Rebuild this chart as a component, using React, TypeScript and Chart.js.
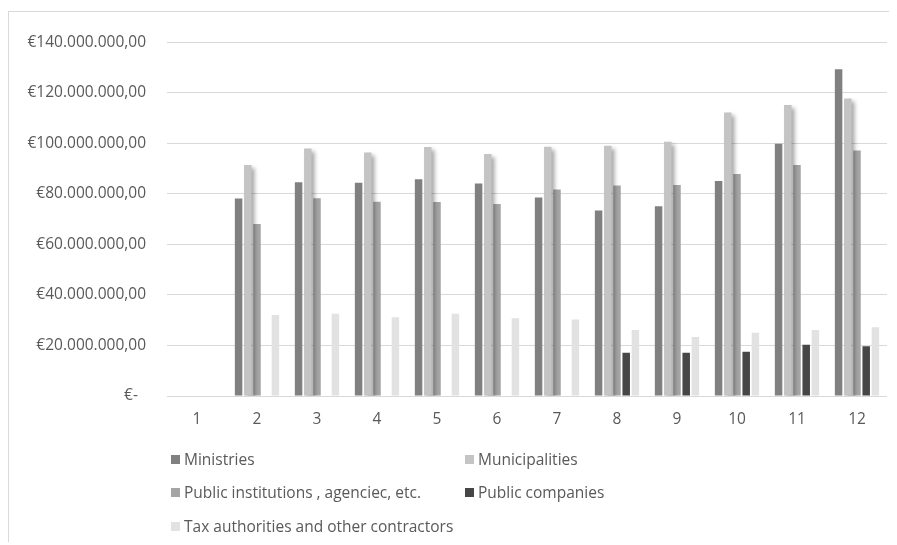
import React, { useEffect, useRef } from "react";
import { Chart, registerables } from "chart.js";

Chart.register(...registerables);

const categories = ["1", "2", "3", "4", "5", "6", "7", "8", "9", "10", "11", "12"];

const ministries = [null, 78200000, 84600000, 84400000, 85800000, 84100000, 78600000, 73400000, 75100000, 85100000, 99800000, 129300000];
const municipalities = [null, 91400000, 98000000, 96400000, 98600000, 95800000, 98700000, 99100000, 100600000, 112200000, 115200000, 117800000];
const publicInstitutions = [null, 68100000, 78300000, 76900000, 76800000, 76000000, 81700000, 83300000, 83500000, 87900000, 91400000, 97200000];
const publicCompanies = [null, null, null, null, null, null, null, 17100000, 17100000, 17500000, 20300000, 19700000];
const taxAuthorities = [null, 32100000, 32600000, 31200000, 32600000, 30800000, 30300000, 26100000, 23400000, 25000000, 26100000, 27200000];

const seriesNames = [
  "Ministries",
  "Municipalities",
  "Public institutions , agenciec, etc.",
  "Public companies",
  "Tax authorities and other contractors",
];
const seriesColors = ["#808080", "#c4c4c4", "#a5a5a5", "#464646", "#e2e2e2"];

const FONT = "'Open Sans', 'Noto Sans', sans-serif";
const TEXT = "#595959";
const FONT_SIZE = 15.5;

function formatEuro(v: number): string {
  if (v === 0) return "€-  ";
  const s = Math.round(v).toString();
  const withDots = s.replace(/\B(?=(\d{3})+(?!\d))/g, ".");
  return "€" + withDots + ",00";
}

const shadowPlugin = {
  id: "munShadow",
  beforeDatasetDraw(chart: any, args: any) {
    if (args.index === 1) {
      const ctx = chart.ctx;
      ctx.save();
      ctx.shadowColor = "rgba(0,0,0,0.35)";
      ctx.shadowBlur = 4;
      ctx.shadowOffsetX = 3;
      ctx.shadowOffsetY = 3;
    }
  },
  afterDatasetDraw(chart: any, args: any) {
    if (args.index === 1) chart.ctx.restore();
  },
};

export default function App() {
  const canvasRef = useRef<HTMLCanvasElement | null>(null);

  useEffect(() => {
    if (!canvasRef.current) return;
    const seriesData = [ministries, municipalities, publicInstitutions, publicCompanies, taxAuthorities];
    const chart = new Chart(canvasRef.current, {
      type: "bar",
      data: {
        labels: categories,
        datasets: seriesData.map((d, i) => ({
          label: seriesNames[i],
          data: d as any,
          backgroundColor: seriesColors[i],
          borderWidth: 0,
          categoryPercentage: 0.767,
          barPercentage: 0.815,
        })),
      },
      options: {
        animation: false,
        responsive: true,
        maintainAspectRatio: false,
        layout: { padding: { left: 0, right: 10, top: 21, bottom: 0 } },
        plugins: {
          legend: { display: false },
          tooltip: { enabled: false },
        },
        scales: {
          x: {
            grid: { display: false, drawTicks: false },
            border: { display: false },
            ticks: {
              color: TEXT,
              font: { family: FONT, size: FONT_SIZE },
              padding: 14,
            },
            afterFit: (scale: any) => {
              scale.height = 56;
            },
          },
          y: {
            min: 0,
            max: 140000000,
            grid: { color: "#d9d9d9", lineWidth: 1, drawTicks: false },
            border: { display: false },
            ticks: {
              stepSize: 20000000,
              color: TEXT,
              font: { family: FONT, size: FONT_SIZE },
              padding: 21,
              callback: (v: any) => formatEuro(Number(v)),
            },
            afterFit: (scale: any) => {
              scale.width = 158;
            },
          },
        },
      },
      plugins: [shadowPlugin],
    });
    return () => chart.destroy();
  }, []);

  const legendPos = [
    { x: 162, y: 447 },
    { x: 456, y: 447 },
    { x: 162, y: 480 },
    { x: 456, y: 480 },
    { x: 162, y: 514 },
  ];

  return (
    <div
      style={{
        position: "relative",
        top: 3,
        width: 889,
        height: 534,
        boxSizing: "border-box",
        borderLeft: "1px solid #d9d9d9",
        borderTop: "1px solid #d9d9d9",
        fontFamily: FONT,
      }}
    >
      <div style={{ position: "absolute", left: 0, top: 0, width: 888, height: 440 }}>
        <canvas ref={canvasRef} />
      </div>
      {seriesNames.map((name, i) => (
        <div
          key={name}
          style={{
            position: "absolute",
            left: legendPos[i].x,
            top: legendPos[i].y - 10,
            height: 20,
            display: "flex",
            alignItems: "center",
            whiteSpace: "nowrap",
            color: TEXT,
            fontSize: FONT_SIZE,
          }}
        >
          <span
            style={{
              display: "inline-block",
              width: 9,
              height: 9,
              background: seriesColors[i],
              marginRight: 4,
            }}
          />
          <span>{name}</span>
        </div>
      ))}
    </div>
  );
}
